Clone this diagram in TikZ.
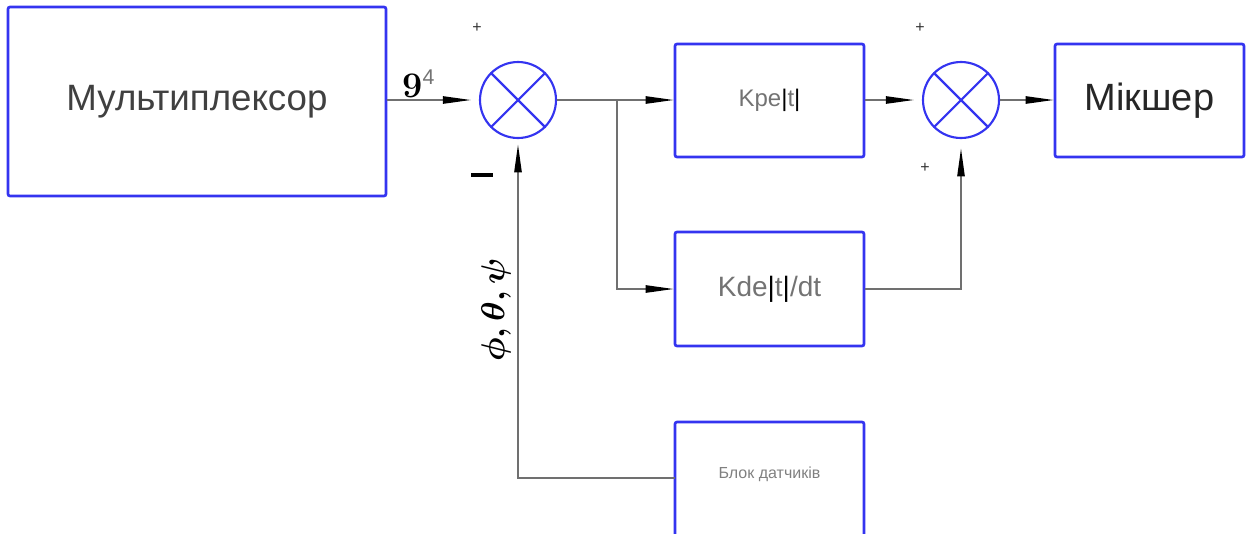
\documentclass[tikz,border=0pt]{standalone}
\usepackage{fontspec}
\usepackage{amsmath}
\newfontfamily\arial{Liberation Sans}
\usetikzlibrary{arrows.meta}
\definecolor{bblue}{HTML}{3434F0}
\definecolor{lgray}{HTML}{707070}
\begin{document}
\begin{tikzpicture}[x=0.75pt,y=-0.75pt,
  box/.style={draw=bblue,line width=2pt,rounded corners=1.5pt,inner sep=0pt,minimum width=141.75pt},
  sum/.style={draw=bblue,line width=1.6pt,circle,minimum size=57pt,inner sep=0pt},
  conn/.style={draw=lgray,line width=1.1pt,-{Triangle[length=21pt,width=5.5pt,color=black]}},
  sign/.style={font=\arial\fontsize{12}{12}\selectfont,text=black!80,inner sep=0pt}]
\useasboundingbox (0,0) rectangle (1246,533);
\clip (0,0) rectangle (1246,533);
% boxes
\node[box,minimum width=283.5pt,minimum height=141.75pt,font=\arial\fontsize{27.5}{27.5}\selectfont,text=black!75] (mux) at (197,101.5) {Мультиплексор};
\node[box,minimum height=84.75pt,font=\arial\fontsize{18}{18}\selectfont,text=black!55] (kp) at (769.5,100.5) {Kpe{\color{black}|}t{\color{black}|}};
\node[box,minimum height=85.5pt,font=\arial\fontsize{21}{21}\selectfont,text=black!55] (kd) at (769.5,289) {Kde{\color{black}|}t{\color{black}|}/dt};
\node[box,minimum height=84.75pt,font=\arial\fontsize{28.5}{28.5}\selectfont,text=black!85] (mix) at (1149.5,100.5) {Мікшер};
\node[box,minimum height=90pt] (sens) at (769.5,482) {};
\node[font=\arial\fontsize{12}{12}\selectfont,text=black!50] (senslabel) at (769.5,474) {Блок датчиків};
% summing junctions
\node[sum] (s1) at (518,100) {};
\draw[bblue,line width=1.6pt] (s1.45) -- (s1.225) (s1.135) -- (s1.-45);
\node[sum] (s2) at (961,100) {};
\draw[bblue,line width=1.6pt] (s2.45) -- (s2.225) (s2.135) -- (s2.-45);
% connectors
\coordinate (br) at (617,100);
\coordinate (sensin) at (675,478);
\draw[conn,shorten >=6pt] (mux.east |- s1) -- (s1.west);
\draw[conn] (s1.east) -- (kp.west |- s1);
\draw[conn] (br) |- (kd.west);
\draw[conn,shorten >=6pt] (kp.east |- s2) -- (s2.west);
\draw[conn] (s2.east) -- (mix.west |- s2);
\draw[conn,shorten >=7pt] (kd.east) -| (s2.south);
\draw[conn,shorten >=4pt] (sensin) -| (s1.south);
% labels
\node[inner sep=0pt,anchor=south west] (g4) at (402,98) {\fontsize{27}{27}\selectfont\bfseries 9\raisebox{0.35em}{\mdseries\arial\fontsize{16}{16}\selectfont\color{black!55}4}};
\node[sign] (p1) at (477,28) {+};
\node[sign] (p2) at (920,28) {+};
\node[sign] (p3) at (925,168) {+};
\node[inner sep=0pt] (m1) at (482,175) {\rule{16pt}{3.2pt}};
\node[rotate=90,inner sep=0pt] (ang) at (496,310) {\fontsize{24}{24}\selectfont$\boldsymbol{\phi,\theta,\psi}$};
\end{tikzpicture}
\end{document}
